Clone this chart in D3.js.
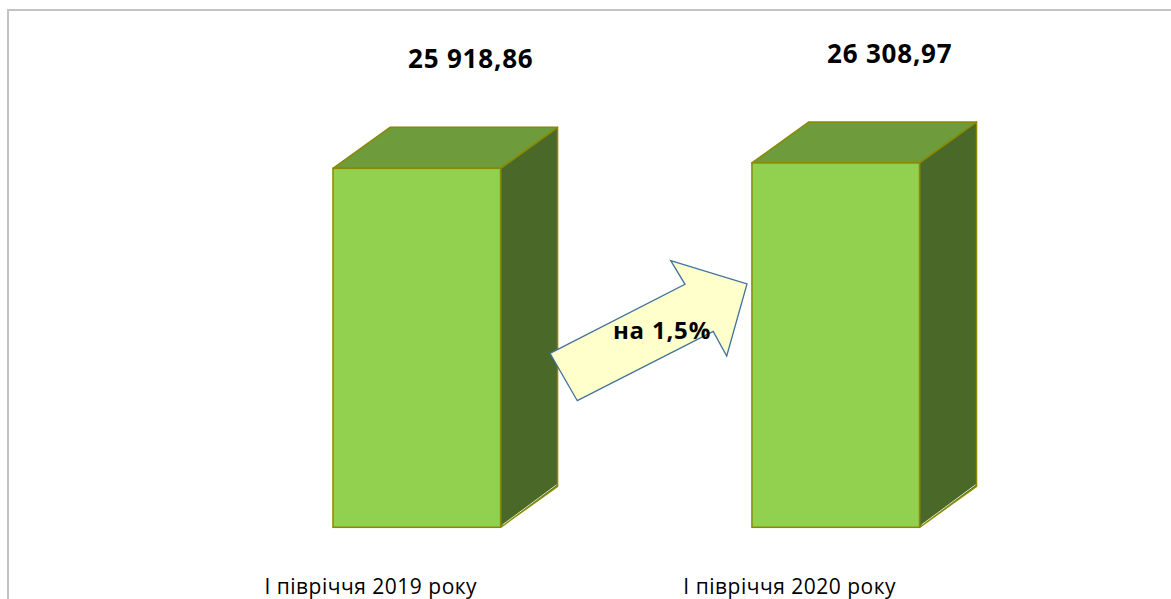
<!DOCTYPE html>
<html>
<head>
<meta charset="utf-8">
<script src="https://cdn.jsdelivr.net/npm/d3@7"></script>
<style>
html,body{margin:0;padding:0;background:#fff;}
svg{display:block;}
</style>
</head>
<body>
<svg id="chart" width="1171" height="599"></svg>
<script>
const categories = ["I півріччя 2019 року", "I півріччя 2020 року"];
const values = [25918.86, 26308.97];
const valueLabels = ["25 918,86", "26 308,97"];
const arrowLabel = "на 1,5%";

const W = 1171, H = 599;
const svg = d3.select("#chart");

// chart border
svg.append("path")
  .attr("d", `M8,${H+2} L8,10 L${W+2},10`)
  .attr("fill", "none").attr("stroke", "#c3c3c3").attr("stroke-width", 2);

const x = d3.scaleBand().domain(categories).range([123.5, 1129]).paddingInner(0.6).paddingOuter(0.5);
const y = d3.scaleLinear().domain([0, 30000]).range([527.3, 111.8]);
const dx = 57, dy = -41;

const g = svg.append("g");
const stroke = "#8a8a00";
const font = "'Open Sans', 'Noto Sans', sans-serif";

categories.forEach((c, i) => {
  const x0 = x(c), x1 = x0 + x.bandwidth();
  const yt = y(values[i]), yb = y(0);
  // side
  g.append("path")
    .attr("d", `M${x1},${yt} L${x1+dx},${yt+dy} L${x1+dx},${yb+dy} L${x1},${yb} Z`)
    .attr("fill", "#4a6828").attr("stroke", stroke).attr("stroke-width", 1.5).attr("stroke-linejoin", "round");
  // light edge on side bottom
  g.append("line")
    .attr("x1", x1 + 2).attr("y1", yb - 2.5).attr("x2", x1 + dx - 1).attr("y2", yb + dy - 1.5)
    .attr("stroke", "#d8e8c0").attr("stroke-width", 1);
  // top
  g.append("path")
    .attr("d", `M${x0},${yt} L${x0+dx},${yt+dy} L${x1+dx},${yt+dy} L${x1},${yt} Z`)
    .attr("fill", "#6e9b3b").attr("stroke", stroke).attr("stroke-width", 1.5).attr("stroke-linejoin", "round");
  // front
  g.append("rect")
    .attr("x", x0).attr("y", yt).attr("width", x.bandwidth()).attr("height", yb - yt)
    .attr("fill", "#92d050").attr("stroke", stroke).attr("stroke-width", 1.5);
  // value label
  g.append("text")
    .attr("x", x0 + x.bandwidth()/2 + 54).attr("y", yt + dy - 59)
    .attr("text-anchor", "middle")
    .attr("font-family", font)
    .attr("font-weight", "bold").attr("font-size", 26)
    .attr("letter-spacing", 0.8)
    .attr("fill", "#000").text(valueLabels[i]);
  // category label
  g.append("text")
    .attr("x", x0 + x.bandwidth()/2 - 46).attr("y", 594)
    .attr("text-anchor", "middle")
    .attr("font-family", font)
    .attr("font-size", 21)
    .attr("letter-spacing", 0.5)
    .attr("fill", "#000").text(c);
});

// arrow between bars
const arrowPts = [
  [550, 353.3], [685, 284.3], [670.7, 260.7], [747, 284], [726.7, 356], [713.2, 331.4], [577.3, 400.7]
];
svg.append("polygon")
  .attr("points", arrowPts.map(p => p.join(",")).join(" "))
  .attr("fill", "#ffffcc").attr("stroke", "#41719c").attr("stroke-width", 1.3).attr("stroke-linejoin", "miter");
svg.append("text")
  .attr("x", 662).attr("y", 338.5)
  .attr("text-anchor", "middle")
  .attr("font-family", font)
  .attr("font-weight", "bold").attr("font-size", 24)
  .attr("letter-spacing", 0.8)
  .attr("fill", "#000").text(arrowLabel);
</script>
</body>
</html>
